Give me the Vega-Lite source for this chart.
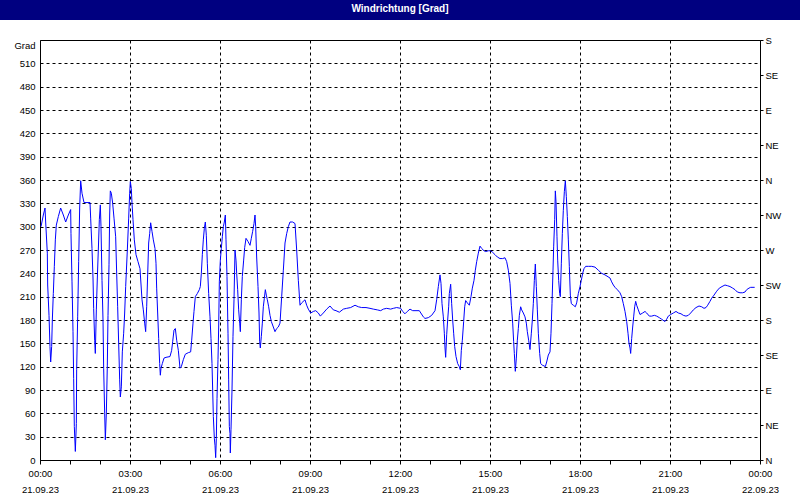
{
  "$schema": "https://vega.github.io/schema/vega-lite/v6.json",
  "padding": 0,
  "background": "white",
  "spacing": 20,
  "bounds": "flush",
  "center": true,
  "config": {"font": "Liberation Sans", "view": {"stroke": null}},
  "vconcat": [
    {
      "width": 800,
      "height": 20,
      "view": {"fill": "#000080", "stroke": null},
      "data": {"values": [{"title": "Windrichtung [Grad]"}]},
      "mark": {"type": "text", "color": "white", "fontWeight": "bold", "fontSize": 10, "font": "Liberation Sans", "baseline": "middle", "align": "center", "dy": -1},
      "encoding": {
        "x": {"field": "title", "type": "nominal", "axis": null},
        "y": {"field": "title", "type": "nominal", "axis": null},
        "text": {"field": "title"}
      }
    },
    {
      "width": 720,
      "height": 420,
      "view": {"stroke": "black", "strokeWidth": 1},
      "data": {"values": [
        {"h":0.033,"d":300},{"h":0.111,"d":315},{"h":0.167,"d":324},{"h":0.189,"d":306},{"h":0.244,"d":266},{"h":0.256,"d":225},{"h":0.3,"d":186},{"h":0.333,"d":146},{"h":0.356,"d":126},{"h":0.389,"d":146},{"h":0.411,"d":180},{"h":0.444,"d":214},{"h":0.478,"d":249},{"h":0.511,"d":283},{"h":0.544,"d":302},{"h":0.611,"d":313},{"h":0.689,"d":324},{"h":0.778,"d":315},{"h":0.856,"d":306},{"h":0.944,"d":315},
        {"h":1.022,"d":322},{"h":1.033,"d":291},{"h":1.067,"d":229},{"h":1.1,"d":165},{"h":1.122,"d":105},{"h":1.144,"d":43},{"h":1.178,"d":11},{"h":1.211,"d":47},{"h":1.222,"d":116},{"h":1.256,"d":184},{"h":1.289,"d":255},{"h":1.322,"d":324},{"h":1.356,"d":359},{"h":1.4,"d":343},{"h":1.467,"d":331},{"h":1.667,"d":331},{"h":1.689,"d":311},{"h":1.733,"d":272},{"h":1.767,"d":234},{"h":1.789,"d":195},{"h":1.822,"d":154},{"h":1.844,"d":137},{"h":1.878,"d":193},{"h":1.911,"d":234},{"h":1.944,"d":270},{"h":1.978,"d":309},
        {"h":2.011,"d":328},{"h":2.033,"d":300},{"h":2.067,"d":231},{"h":2.1,"d":180},{"h":2.122,"d":118},{"h":2.156,"d":60},{"h":2.178,"d":26},{"h":2.211,"d":60},{"h":2.244,"d":122},{"h":2.267,"d":186},{"h":2.3,"d":251},{"h":2.322,"d":315},{"h":2.344,"d":346},{"h":2.378,"d":343},{"h":2.422,"d":330},{"h":2.467,"d":311},{"h":2.522,"d":287},{"h":2.556,"d":240},{"h":2.589,"d":197},{"h":2.622,"d":150},{"h":2.656,"d":103},{"h":2.678,"d":81},{"h":2.711,"d":94},{"h":2.744,"d":139},{"h":2.789,"d":163},{"h":2.822,"d":189},{"h":2.856,"d":223},{"h":2.911,"d":270},{"h":2.956,"d":311},{"h":2.989,"d":343},
        {"h":3.011,"d":358},{"h":3.044,"d":349},{"h":3.067,"d":330},{"h":3.1,"d":309},{"h":3.144,"d":283},{"h":3.2,"d":264},{"h":3.267,"d":255},{"h":3.333,"d":246},{"h":3.4,"d":206},{"h":3.444,"d":193},{"h":3.489,"d":176},{"h":3.522,"d":165},{"h":3.556,"d":197},{"h":3.589,"d":238},{"h":3.622,"d":279},{"h":3.656,"d":291},{"h":3.689,"d":305},{"h":3.733,"d":294},{"h":3.778,"d":283},{"h":3.833,"d":272},{"h":3.867,"d":253},{"h":3.889,"d":221},{"h":3.922,"d":189},{"h":3.956,"d":156},{"h":3.989,"d":124},
        {"h":4.011,"d":109},{"h":4.033,"d":118},{"h":4.078,"d":124},{"h":4.133,"d":131},{"h":4.2,"d":132},{"h":4.333,"d":133},{"h":4.389,"d":141},{"h":4.422,"d":152},{"h":4.467,"d":167},{"h":4.511,"d":169},{"h":4.556,"d":154},{"h":4.611,"d":141},{"h":4.667,"d":118},{"h":4.711,"d":120},{"h":4.778,"d":129},{"h":4.844,"d":136},{"h":4.944,"d":138},
        {"h":5.022,"d":139},{"h":5.056,"d":154},{"h":5.1,"d":176},{"h":5.133,"d":191},{"h":5.178,"d":210},{"h":5.244,"d":214},{"h":5.311,"d":219},{"h":5.344,"d":223},{"h":5.378,"d":240},{"h":5.411,"d":264},{"h":5.444,"d":283},{"h":5.478,"d":298},{"h":5.511,"d":306},{"h":5.544,"d":289},{"h":5.578,"d":253},{"h":5.622,"d":214},{"h":5.667,"d":184},{"h":5.7,"d":156},{"h":5.733,"d":124},{"h":5.756,"d":90},{"h":5.778,"d":56},{"h":5.811,"d":28},{"h":5.833,"d":19},{"h":5.856,"d":3},{"h":5.878,"d":28},{"h":5.9,"d":79},{"h":5.933,"d":129},{"h":5.956,"d":171},{"h":5.978,"d":229},
        {"h":6.011,"d":257},{"h":6.044,"d":272},{"h":6.078,"d":287},{"h":6.111,"d":300},{"h":6.144,"d":306},{"h":6.178,"d":315},{"h":6.2,"d":283},{"h":6.233,"d":236},{"h":6.267,"d":163},{"h":6.289,"d":103},{"h":6.311,"d":43},{"h":6.333,"d":34},{"h":6.344,"d":9},{"h":6.367,"d":39},{"h":6.4,"d":90},{"h":6.433,"d":159},{"h":6.467,"d":206},{"h":6.5,"d":270},{"h":6.533,"d":257},{"h":6.556,"d":240},{"h":6.589,"d":219},{"h":6.622,"d":193},{"h":6.656,"d":176},{"h":6.678,"d":165},{"h":6.711,"d":206},{"h":6.744,"d":236},{"h":6.789,"d":257},{"h":6.822,"d":273},{"h":6.867,"d":285},{"h":6.933,"d":281},
        {"h":7.0,"d":276},{"h":7.044,"d":285},{"h":7.089,"d":294},{"h":7.133,"d":304},{"h":7.167,"d":315},{"h":7.189,"d":300},{"h":7.222,"d":261},{"h":7.267,"d":223},{"h":7.3,"d":189},{"h":7.322,"d":152},{"h":7.344,"d":144},{"h":7.378,"d":159},{"h":7.411,"d":176},{"h":7.444,"d":197},{"h":7.478,"d":208},{"h":7.511,"d":219},{"h":7.544,"d":212},{"h":7.578,"d":206},{"h":7.622,"d":197},{"h":7.667,"d":186},{"h":7.711,"d":178},{"h":7.778,"d":171},{"h":7.833,"d":165},{"h":7.889,"d":169},{"h":7.944,"d":171},
        {"h":8.0,"d":176},{"h":8.056,"d":210},{"h":8.111,"d":244},{"h":8.167,"d":279},{"h":8.222,"d":291},{"h":8.278,"d":300},{"h":8.333,"d":306},{"h":8.422,"d":306},{"h":8.5,"d":304},{"h":8.556,"d":270},{"h":8.611,"d":231},{"h":8.667,"d":199},{"h":8.722,"d":202},{"h":8.833,"d":206},{"h":8.889,"d":199},{"h":8.944,"d":194},
        {"h":9.022,"d":189},{"h":9.111,"d":191},{"h":9.189,"d":192},{"h":9.278,"d":189},{"h":9.344,"d":185},{"h":9.444,"d":189},{"h":9.556,"d":194},{"h":9.667,"d":198},{"h":9.778,"d":193},{"h":9.867,"d":192},{"h":9.978,"d":190},
        {"h":10.111,"d":194},{"h":10.222,"d":195},{"h":10.356,"d":196},{"h":10.5,"d":199},{"h":10.611,"d":197},{"h":10.722,"d":196},{"h":10.867,"d":196},
        {"h":11.0,"d":195},{"h":11.111,"d":194},{"h":11.244,"d":193},{"h":11.356,"d":192},{"h":11.444,"d":194},{"h":11.556,"d":195},{"h":11.689,"d":194},{"h":11.778,"d":195},{"h":11.889,"d":196},
        {"h":12.022,"d":195},{"h":12.089,"d":191},{"h":12.167,"d":188},{"h":12.244,"d":191},{"h":12.333,"d":194},{"h":12.422,"d":192},{"h":12.5,"d":192},{"h":12.644,"d":192},{"h":12.778,"d":184},{"h":12.833,"d":182},{"h":12.944,"d":183},
        {"h":13.056,"d":186},{"h":13.167,"d":192},{"h":13.222,"d":206},{"h":13.278,"d":223},{"h":13.333,"d":238},{"h":13.367,"d":227},{"h":13.4,"d":201},{"h":13.444,"d":184},{"h":13.478,"d":163},{"h":13.5,"d":144},{"h":13.522,"d":132},{"h":13.556,"d":161},{"h":13.589,"d":180},{"h":13.622,"d":197},{"h":13.644,"d":214},{"h":13.689,"d":226},{"h":13.722,"d":201},{"h":13.756,"d":180},{"h":13.789,"d":163},{"h":13.822,"d":146},{"h":13.867,"d":133},{"h":13.922,"d":124},{"h":13.978,"d":120},
        {"h":14.011,"d":116},{"h":14.044,"d":141},{"h":14.078,"d":154},{"h":14.122,"d":178},{"h":14.156,"d":197},{"h":14.189,"d":205},{"h":14.244,"d":202},{"h":14.311,"d":199},{"h":14.367,"d":210},{"h":14.411,"d":221},{"h":14.467,"d":231},{"h":14.511,"d":244},{"h":14.556,"d":255},{"h":14.611,"d":266},{"h":14.667,"d":275},{"h":14.722,"d":272},{"h":14.8,"d":269},{"h":14.856,"d":268},{"h":14.944,"d":269},
        {"h":15.022,"d":269},{"h":15.089,"d":267},{"h":15.167,"d":264},{"h":15.244,"d":261},{"h":15.333,"d":259},{"h":15.422,"d":259},{"h":15.5,"d":260},{"h":15.556,"d":255},{"h":15.611,"d":244},{"h":15.667,"d":227},{"h":15.711,"d":199},{"h":15.756,"d":176},{"h":15.789,"d":152},{"h":15.811,"d":137},{"h":15.844,"d":114},{"h":15.878,"d":131},{"h":15.911,"d":154},{"h":15.944,"d":169},{"h":15.978,"d":186},
        {"h":16.022,"d":197},{"h":16.056,"d":193},{"h":16.111,"d":189},{"h":16.167,"d":184},{"h":16.211,"d":176},{"h":16.244,"d":165},{"h":16.289,"d":154},{"h":16.333,"d":142},{"h":16.378,"d":163},{"h":16.411,"d":180},{"h":16.444,"d":201},{"h":16.478,"d":231},{"h":16.511,"d":252},{"h":16.544,"d":223},{"h":16.578,"d":193},{"h":16.611,"d":163},{"h":16.656,"d":137},{"h":16.689,"d":124},{"h":16.744,"d":122},{"h":16.8,"d":121},{"h":16.844,"d":120},{"h":16.889,"d":126},{"h":16.944,"d":135},
        {"h":17.0,"d":139},{"h":17.033,"d":163},{"h":17.067,"d":201},{"h":17.1,"d":244},{"h":17.122,"d":274},{"h":17.156,"d":309},{"h":17.178,"d":346},{"h":17.2,"d":332},{"h":17.233,"d":287},{"h":17.256,"d":257},{"h":17.289,"d":231},{"h":17.322,"d":214},{"h":17.344,"d":210},{"h":17.378,"d":253},{"h":17.411,"d":291},{"h":17.444,"d":321},{"h":17.478,"d":345},{"h":17.511,"d":359},{"h":17.544,"d":339},{"h":17.578,"d":313},{"h":17.611,"d":283},{"h":17.644,"d":249},{"h":17.678,"d":212},{"h":17.711,"d":201},{"h":17.778,"d":199},{"h":17.844,"d":197},{"h":17.889,"d":202},{"h":17.944,"d":214},
        {"h":18.0,"d":223},{"h":18.044,"d":231},{"h":18.089,"d":240},{"h":18.133,"d":246},{"h":18.189,"d":249},{"h":18.278,"d":249},{"h":18.389,"d":249},{"h":18.5,"d":248},{"h":18.611,"d":244},{"h":18.722,"d":240},{"h":18.833,"d":238},
        {"h":19.0,"d":234},{"h":19.056,"d":229},{"h":19.111,"d":225},{"h":19.167,"d":222},{"h":19.244,"d":219},{"h":19.333,"d":215},{"h":19.389,"d":210},{"h":19.444,"d":201},{"h":19.5,"d":191},{"h":19.556,"d":178},{"h":19.6,"d":163},{"h":19.633,"d":150},{"h":19.667,"d":144},{"h":19.689,"d":137},{"h":19.722,"d":156},{"h":19.756,"d":171},{"h":19.789,"d":184},{"h":19.822,"d":197},{"h":19.856,"d":204},{"h":19.889,"d":199},{"h":19.944,"d":193},
        {"h":20.0,"d":187},{"h":20.089,"d":189},{"h":20.167,"d":191},{"h":20.222,"d":189},{"h":20.311,"d":185},{"h":20.389,"d":185},{"h":20.478,"d":186},{"h":20.556,"d":185},{"h":20.644,"d":183},{"h":20.722,"d":181},{"h":20.833,"d":178},{"h":20.889,"d":181},{"h":20.944,"d":185},
        {"h":21.022,"d":187},{"h":21.111,"d":189},{"h":21.2,"d":191},{"h":21.278,"d":189},{"h":21.367,"d":188},{"h":21.444,"d":186},{"h":21.533,"d":185},{"h":21.611,"d":186},{"h":21.689,"d":189},{"h":21.778,"d":193},{"h":21.867,"d":196},{"h":21.967,"d":198},
        {"h":22.056,"d":197},{"h":22.133,"d":195},{"h":22.2,"d":196},{"h":22.256,"d":199},{"h":22.333,"d":204},{"h":22.389,"d":208},{"h":22.467,"d":212},{"h":22.556,"d":217},{"h":22.644,"d":221},{"h":22.733,"d":223},{"h":22.833,"d":225},{"h":22.922,"d":224},
        {"h":23.0,"d":223},{"h":23.089,"d":221},{"h":23.167,"d":219},{"h":23.244,"d":216},{"h":23.333,"d":215},{"h":23.422,"d":215},{"h":23.5,"d":216},{"h":23.556,"d":219},{"h":23.633,"d":221},{"h":23.689,"d":222},{"h":23.822,"d":222}
      ]},
      "encoding": {
        "x": {
          "field": "h",
          "type": "quantitative",
          "scale": {"domain": [0, 24], "nice": false, "zero": false},
          "axis": {
            "title": null,
            "values": [0,1,2,3,4,5,6,7,8,9,10,11,12,13,14,15,16,17,18,19,20,21,22,23,24],
            "labelExpr": "datum.value % 3 == 0 ? [(datum.value % 24 < 10 ? '0' : '') + (datum.value % 24) + ':00', datum.value < 24 ? '21.09.23' : '22.09.23'] : ''",
            "grid": true,
            "gridColor": "black",
            "gridDash": [3, 3],
            "gridWidth": 1,
            "gridOpacity": {"condition": {"test": "datum.value % 3 != 0 || datum.value == 0 || datum.value == 24", "value": 0}, "value": 1},
            "domainColor": "black",
            "tickColor": "black",
            "tickSize": 4,
            "labelPadding": 4,
            "labelFont": "Liberation Sans",
            "labelFontSize": 9.5,
            "labelColor": "black",
            "labelLineHeight": 16,
            "labelFlush": false,
            "labelOverlap": false,
            "labelBound": false,
            "labelDx": -2
          }
        }
      },
      "layer": [
        {
          "mark": {"type": "line", "color": "#0000FF", "strokeWidth": 1},
          "encoding": {
            "y": {
              "field": "d",
              "type": "quantitative",
              "scale": {"domain": [0, 540], "nice": false, "zero": true},
              "axis": {
                "title": null,
                "values": [0,30,60,90,120,150,180,210,240,270,300,330,360,390,420,450,480,510,540],
                "labelExpr": "datum.value == 540 ? 'Grad' : datum.label",
                "grid": true,
                "gridColor": "black",
                "gridDash": [3, 3],
                "gridWidth": 1,
                "gridOpacity": {"condition": {"test": "datum.value == 0 || datum.value == 540", "value": 0}, "value": 1},
                "ticks": false,
                "tickSize": 0,
                "labelPadding": 5,
                "domainColor": "black",
                "labelColor": "black",
                "labelFont": "Liberation Sans",
                "labelFontSize": 9.5,
                "labelBaseline": {"condition": {"test": "datum.value == 540", "value": "top"}, "value": "middle"},
                "labelFlush": false,
                "labelOverlap": false
              }
            }
          }
        },
        {
          "mark": {"type": "line", "opacity": 0},
          "encoding": {
            "y": {
              "field": "d",
              "type": "quantitative",
              "scale": {"domain": [0, 540], "nice": false, "zero": true},
              "axis": {
                "orient": "right",
                "title": null,
                "values": [0,45,90,135,180,225,270,315,360,405,450,495,540],
                "labelExpr": "['N','NE','E','SE','S','SW','W','NW'][(datum.value / 45) % 8]",
                "grid": false,
                "tickSize": 3,
                "tickColor": "black",
                "domainColor": "black",
                "labelPadding": 2,
                "labelColor": "black",
                "labelFont": "Liberation Sans",
                "labelFontSize": 9.5,
                "labelFlush": false,
                "labelOverlap": false
              }
            }
          }
        }
      ],
      "resolve": {"axis": {"y": "independent"}}
    }
  ]
}
